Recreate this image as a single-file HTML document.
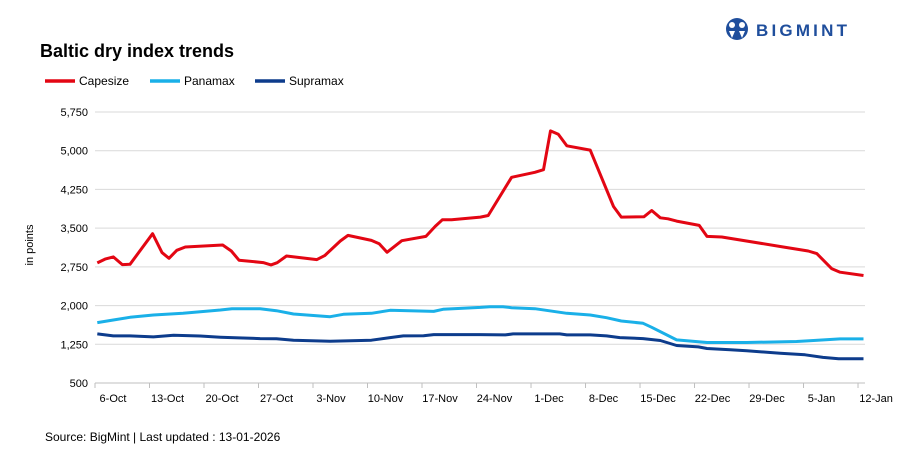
<!DOCTYPE html>
<html><head><meta charset="utf-8"><style>
body{margin:0;background:#fff;font-family:"Liberation Sans",sans-serif;}
#wrap{position:relative;width:909px;height:458px;overflow:hidden;}
</style></head><body>
<div id="wrap">
<svg id="chart" width="909" height="458">
  <g>
    <circle cx="737" cy="29" r="11" fill="#1f4e9c"/>
    <circle cx="732" cy="25" r="3" fill="#fff"/>
    <circle cx="742" cy="25" r="3" fill="#fff"/>
    <path d="M729 31 L732 38 L735 31 Z M739 31 L742 38 L745 31 Z" fill="#fff"/>
    <text x="756" y="36" font-size="17" font-weight="bold" fill="#1f4e9c" letter-spacing="3.2" font-family="Liberation Sans, sans-serif">BIGMINT</text>
  </g>
  <text x="40" y="57" font-size="18" font-weight="bold" fill="#000">Baltic dry index trends</text>
  <g>
    <g><line x1="45" y1="81" x2="75" y2="81" stroke="#e30613" stroke-width="3.5"/><text x="79" y="85" font-size="12" fill="#000">Capesize</text></g>
    <g><line x1="150" y1="81" x2="180" y2="81" stroke="#1ab0e8" stroke-width="3.5"/><text x="184" y="85" font-size="12" fill="#000">Panamax</text></g>
    <g><line x1="255" y1="81" x2="285" y2="81" stroke="#0d3c8c" stroke-width="3.5"/><text x="289" y="85" font-size="12" fill="#000">Supramax</text></g>
  </g>
  <text transform="translate(33,245) rotate(-90)" text-anchor="middle" font-size="11" fill="#000">in points</text>
  <g id="grid"></g><g id="xaxis"></g><g id="series"></g>
  <text x="45" y="441" font-size="12" fill="#000">Source: BigMint | Last updated : 13-01-2026</text>
</svg>
</div>
<script>
const yTicks=[500,1250,2000,2750,3500,4250,5000,5750];
const xLabels=["6-Oct","13-Oct","20-Oct","27-Oct","3-Nov","10-Nov","17-Nov","24-Nov","1-Dec","8-Dec","15-Dec","22-Dec","29-Dec","5-Jan","12-Jan"];
const capDays=[0.3,1.3,2.35,3.5,4.5,7.4,8.6,9.5,10.5,11.6,16.4,17.5,18.5,21.6,22.6,23.4,24.6,28.5,29.5,31.5,32.5,35.5,36.5,37.5,39.4,42.5,43.7,44.6,45.8,49.5,50.5,53.5,56.5,57.6,58.5,59.5,60.6,63.6,66.6,67.6,70.5,71.5,72.6,73.6,74.7,77.6,78.6,80.5,88.4,91.6,92.7,94.6,95.7,98.7];
const capVals=[2826,2900,2942,2794,2800,3392,3026,2916,3071,3135,3173,3058,2878,2833,2788,2830,2961,2891,2968,3250,3360,3263,3199,3032,3257,3340,3533,3662,3662,3713,3745,4485,4581,4633,5384,5320,5095,5012,3919,3713,3720,3842,3700,3681,3636,3553,3340,3328,3135,3058,3006,2717,2646,2582];
const panDays=[0.3,2.35,4.5,7.5,11.3,16.1,17.6,21.2,23.3,25.5,30.2,31.9,35.5,37.9,43.5,44.7,49.5,50.7,52.4,53.5,56.5,60.6,63.6,65.7,67.6,70.4,71.5,74.7,78.6,83.7,90.1,92.3,95.7,98.7];
const panVals=[1670,1721,1773,1817,1850,1914,1940,1940,1901,1837,1785,1830,1850,1908,1888,1927,1965,1978,1978,1959,1940,1850,1817,1766,1702,1657,1580,1335,1284,1284,1303,1323,1355,1355];
const supDays=[0.3,2.35,4.5,7.5,10.1,13.5,16.1,18.5,21.2,23.3,25.5,30.2,35.5,37.9,39.6,42.2,43.5,49.4,52.7,53.7,59.7,60.6,63.6,65.7,67.4,70.4,72.6,74.7,77.5,78.6,81.6,83.7,88,91.2,93.5,95.5,98.7];
const supVals=[1451,1413,1413,1393,1425,1410,1387,1374,1361,1358,1329,1310,1329,1380,1413,1415,1438,1438,1432,1451,1451,1432,1432,1413,1380,1361,1323,1226,1200,1168,1143,1123,1078,1046,995,969,969];

const NS="http://www.w3.org/2000/svg";
const X0=95,X1=865,Y0=383,Y1=112,PXD=7.786;
const xs=d=>X0+d*PXD;
const ys=v=>Y0-(v-500)/(5750-500)*(Y0-Y1);
function mk(t,a,p){const e=document.createElementNS(NS,t);for(const k in a)e.setAttribute(k,a[k]);p.appendChild(e);return e;}
const grid=document.getElementById('grid');
yTicks.forEach(v=>{
  if(v>500){const l=mk('line',{x1:X0,x2:X1,y1:ys(v),y2:ys(v),stroke:'#d9d9d9','stroke-width':1},grid);
  
  }
  const t=mk('text',{x:88,y:ys(v)+4,'text-anchor':'end','font-size':11,fill:'#000'},grid);
  t.textContent=v.toLocaleString('en-US');
  
  
});
const xa=document.getElementById('xaxis');
const ax=mk('line',{x1:X0,x2:X1,y1:Y0,y2:Y0,stroke:'#bfbfbf','stroke-width':1},xa);


xLabels.forEach((s,i)=>{
  const x=xs(i*7);
  mk('line',{x1:x,x2:x,y1:Y0,y2:Y0+5,stroke:'#bfbfbf'},xa);
  const t=mk('text',{x:x+18,y:402,'text-anchor':'middle','font-size':11,fill:'#000'},xa);
  t.textContent=s;
  
  
});
const sg=document.getElementById('series');
function line(days,vals,col,name){
  const p=mk('polyline',{points:days.map((d,i)=>xs(d).toFixed(1)+','+ys(vals[i]).toFixed(1)).join(' '),fill:'none',stroke:col,'stroke-width':3,'stroke-linejoin':'round'},sg);
  
  
}
line(supDays,supVals,'#0d3c8c','supramax-line');
line(panDays,panVals,'#1ab0e8','panamax-line');
line(capDays,capVals,'#e30613','capesize-line');
</script>
</body></html>
